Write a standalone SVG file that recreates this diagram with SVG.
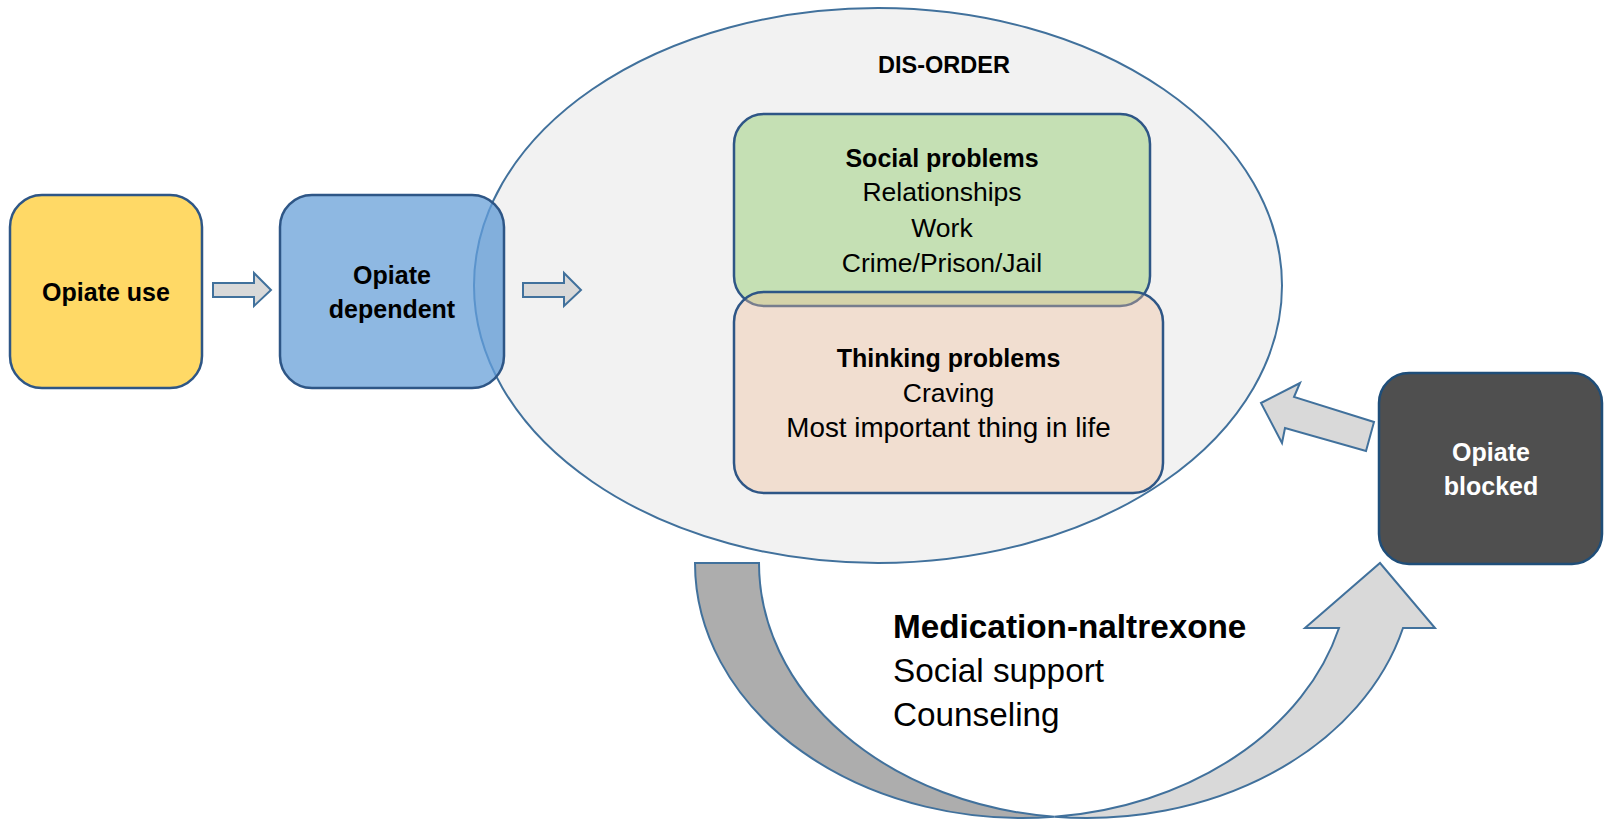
<svg xmlns="http://www.w3.org/2000/svg" width="1604" height="821" viewBox="0 0 1604 821">
<style>
text{font-family:"Liberation Sans",Arial,sans-serif;fill:#000;}
.c{text-anchor:middle;}
.b{font-weight:bold;font-size:25px;}
.r{font-size:26.5px;}
.big{font-size:33.3px;}
.conn{fill:#D9D9D9;stroke:#41719C;stroke-width:2;stroke-linejoin:miter;}
.box{stroke:#2E5686;stroke-width:2.5;}
</style>
<defs>
<clipPath id="depClip"><rect x="280" y="195" width="224" height="193" rx="32" ry="32"/></clipPath>
</defs>
<rect width="1604" height="821" fill="#fff"/>

<g id="disorder">
<ellipse cx="878" cy="285.5" rx="404" ry="277.5" fill="#F2F2F2" stroke="#41719C" stroke-width="2"/>
<text class="b c" x="944" y="73" style="font-size:23.5px">DIS-ORDER</text>
</g>

<g id="opiate-use">
<rect class="box" x="10" y="195" width="192" height="193" rx="32" ry="32" fill="#FFD966"/>
<text class="b c" x="106" y="301">Opiate use</text>
</g>

<g id="opiate-dependent">
<rect x="280" y="195" width="224" height="193" rx="32" ry="32" fill="#8EB8E2"/>
<ellipse clip-path="url(#depClip)" cx="878" cy="285.5" rx="404" ry="277.5" fill="#82AFDC" stroke="#5A93CC" stroke-width="2"/>
<rect class="box" x="280" y="195" width="224" height="193" rx="32" ry="32" fill="none"/>
<text class="b c" x="392" y="284">Opiate</text>
<text class="b c" x="392" y="318">dependent</text>
</g>

<g id="social-problems">
<rect class="box" x="734" y="114" width="416" height="192" rx="30" ry="30" fill="#C5E0B4"/>
<text class="b c" x="942" y="167">Social problems</text>
<text class="r c" x="942" y="201">Relationships</text>
<text class="r c" x="942" y="237">Work</text>
<text class="r c" x="942" y="272">Crime/Prison/Jail</text>
</g>

<g id="thinking-problems">
<rect class="box" x="734" y="292" width="429" height="201" rx="30" ry="30" fill="#EFBD98" fill-opacity="0.38"/>
<text class="b c" x="948.5" y="367">Thinking problems</text>
<text class="r c" x="948.5" y="402">Craving</text>
<text class="r c" x="948.5" y="437" style="font-size:27.8px">Most important thing in life</text>
</g>

<g id="opiate-blocked">
<rect x="1379" y="373" width="223" height="191" rx="30" ry="30" fill="#4F4F4F" stroke="#1F4E79" stroke-width="2.5"/>
<text class="b c" x="1491" y="461" style="fill:#fff">Opiate</text>
<text class="b c" x="1491" y="495" style="fill:#fff">blocked</text>
</g>

<g id="connectors">
<path class="conn" d="M213,283 H254 V273 L271,290 L254,306 V297 H213 Z"/>
<path class="conn" d="M523,283 H564 V273 L581,290 L564,306 V297 H523 Z"/>
<path class="conn" d="M1261,403 L1300,383 L1294,397 L1374,422 L1366,451 L1285,428 L1282,443 Z"/>
<path d="M695,563 A327.4,255 0 0 0 1054.4,816.8 A327.4,255 0 0 1 759,563 Z" fill="#ADADAD" stroke="#41719C" stroke-width="2" stroke-linejoin="miter"/>
<path class="conn" d="M1054.4,816.8 A327.4,255 0 0 0 1403,628 L1435,628 L1380,563 L1305,628 L1339,628 A327.4,255 0 0 1 1054.4,816.8 Z"/>
</g>

<g id="treatment-label">
<text class="big" x="893" y="638" style="font-weight:bold">Medication-naltrexone</text>
<text class="big" x="893" y="682">Social support</text>
<text class="big" x="893" y="726">Counseling</text>
</g>
</svg>
